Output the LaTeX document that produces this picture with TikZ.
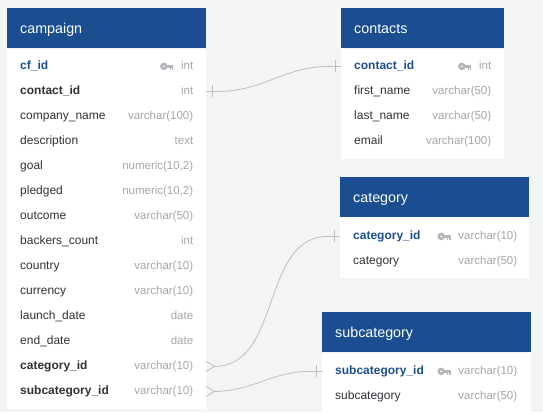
\documentclass[tikz,border=0pt]{standalone}
\usepackage{fontspec}
\setmainfont{Liberation Sans}
\usepackage{tikz}
\definecolor{bgray}{HTML}{F3F4F4}
\definecolor{headblue}{HTML}{1B4E91}
\definecolor{pkblue}{HTML}{1D4F91}
\definecolor{rowtext}{HTML}{2F3338}
\definecolor{typegray}{HTML}{A4A7AB}
\definecolor{keygray}{HTML}{B3B6BA}
\definecolor{linkgray}{HTML}{BEBEBE}
\usetikzlibrary{positioning}
\tikzset{
  tbl_head/.style = {anchor=north west, fill=headblue, text=white, inner ysep=0pt,
    inner xsep=13pt, minimum height=40pt, align=left, text height=11pt, text depth=0pt,
    font=\fontsize{14.3}{17}\selectfont},% table title
  tbl_body/.style = {fill=white, inner sep=0pt},% table body
  col_name/.style = {anchor=west, inner sep=0pt, text height=9pt, text depth=3pt,
    text=rowtext, font=\fontsize{12}{14}\selectfont},% plain column
  col_fk/.style = {col_name, font=\fontsize{12}{14}\selectfont\bfseries},% foreign key
  col_pk/.style = {col_name, text=pkblue, font=\fontsize{12}{14}\selectfont\bfseries},% primary key
  col_type/.style = {anchor=east, inner sep=0pt, text height=9pt, text depth=3pt,
    text=typegray, font=\fontsize{11.5}{14}\selectfont},% column type
  link/.style = {draw=linkgray, line width=0.8pt},
  keyicon/.pic = {
    \fill[keygray, even odd rule] (0,0) circle (3.8) (0,0) circle (1.2);
    \fill[keygray] (2,-1.4) rectangle (9.5,1.4);
    \fill[keygray] (5.8,1.4) rectangle (7.1,3.4);
    \fill[keygray] (8.2,1.4) rectangle (9.5,3.4);
  },
}
\begin{document}
\begin{tikzpicture}[x=1pt,y=-1pt]
\fill[bgray] (0,0) rectangle (543,412);
\useasboundingbox (0,0) rectangle (543,412);
% campaign
\node[tbl_head, text width=173pt] (cmp_hd) at (7,8) {campaign};
\node[tbl_body, minimum width=199pt, minimum height=360pt, below=0pt of cmp_hd] (cmp_bd) {};
\node[col_pk] (cmp_cf) at ([xshift=13pt,yshift=-18pt]cmp_bd.north west) {cf\_id};
\node[col_fk] (cmp_contact) at ([yshift=-25pt]cmp_cf.west) {contact\_id};
\node[col_name] (cmp_company) at ([yshift=-25pt]cmp_contact.west) {company\_name};
\node[col_name] (cmp_desc) at ([yshift=-25pt]cmp_company.west) {description};
\node[col_name] (cmp_goal) at ([yshift=-25pt]cmp_desc.west) {goal};
\node[col_name] (cmp_pledged) at ([yshift=-25pt]cmp_goal.west) {pledged};
\node[col_name] (cmp_outcome) at ([yshift=-25pt]cmp_pledged.west) {outcome};
\node[col_name] (cmp_backers) at ([yshift=-25pt]cmp_outcome.west) {backers\_count};
\node[col_name] (cmp_country) at ([yshift=-25pt]cmp_backers.west) {country};
\node[col_name] (cmp_currency) at ([yshift=-25pt]cmp_country.west) {currency};
\node[col_name] (cmp_launch) at ([yshift=-25pt]cmp_currency.west) {launch\_date};
\node[col_name] (cmp_end) at ([yshift=-25pt]cmp_launch.west) {end\_date};
\node[col_fk] (cmp_cat) at ([yshift=-25pt]cmp_end.west) {category\_id};
\node[col_fk] (cmp_sub) at ([yshift=-25pt]cmp_cat.west) {subcategory\_id};
\node[col_type, xshift=-13pt] (cmp_cf_t) at (cmp_bd.east |- cmp_cf) {int};
\node[col_type, xshift=-13pt] (cmp_contact_t) at (cmp_bd.east |- cmp_contact) {int};
\node[col_type, xshift=-13pt] (cmp_company_t) at (cmp_bd.east |- cmp_company) {varchar(100)};
\node[col_type, xshift=-13pt] (cmp_desc_t) at (cmp_bd.east |- cmp_desc) {text};
\node[col_type, xshift=-13pt] (cmp_goal_t) at (cmp_bd.east |- cmp_goal) {numeric(10,2)};
\node[col_type, xshift=-13pt] (cmp_pledged_t) at (cmp_bd.east |- cmp_pledged) {numeric(10,2)};
\node[col_type, xshift=-13pt] (cmp_outcome_t) at (cmp_bd.east |- cmp_outcome) {varchar(50)};
\node[col_type, xshift=-13pt] (cmp_backers_t) at (cmp_bd.east |- cmp_backers) {int};
\node[col_type, xshift=-13pt] (cmp_country_t) at (cmp_bd.east |- cmp_country) {varchar(10)};
\node[col_type, xshift=-13pt] (cmp_currency_t) at (cmp_bd.east |- cmp_currency) {varchar(10)};
\node[col_type, xshift=-13pt] (cmp_launch_t) at (cmp_bd.east |- cmp_launch) {date};
\node[col_type, xshift=-13pt] (cmp_end_t) at (cmp_bd.east |- cmp_end) {date};
\node[col_type, xshift=-13pt] (cmp_cat_t) at (cmp_bd.east |- cmp_cat) {varchar(10)};
\node[col_type, xshift=-13pt] (cmp_sub_t) at (cmp_bd.east |- cmp_sub) {varchar(10)};
\pic at ([xshift=-17pt]cmp_cf_t.west) {keyicon};
% contacts
\node[tbl_head, text width=137pt] (con_hd) at (341,8) {contacts};
\node[tbl_body, minimum width=163pt, minimum height=110pt, below=0pt of con_hd] (con_bd) {};
\node[col_pk] (con_id) at ([xshift=13pt,yshift=-18pt]con_bd.north west) {contact\_id};
\node[col_name] (con_first) at ([yshift=-25pt]con_id.west) {first\_name};
\node[col_name] (con_last) at ([yshift=-25pt]con_first.west) {last\_name};
\node[col_name] (con_email) at ([yshift=-25pt]con_last.west) {email};
\node[col_type, xshift=-13pt] (con_id_t) at (con_bd.east |- con_id) {int};
\node[col_type, xshift=-13pt] (con_first_t) at (con_bd.east |- con_first) {varchar(50)};
\node[col_type, xshift=-13pt] (con_last_t) at (con_bd.east |- con_last) {varchar(50)};
\node[col_type, xshift=-13pt] (con_email_t) at (con_bd.east |- con_email) {varchar(100)};
\pic at ([xshift=-17pt]con_id_t.west) {keyicon};
% category
\node[tbl_head, text width=163pt] (cat_hd) at (340,177) {category};
\node[tbl_body, minimum width=189pt, minimum height=60pt, below=0pt of cat_hd] (cat_bd) {};
\node[col_pk] (cat_id) at ([xshift=13pt,yshift=-19pt]cat_bd.north west) {category\_id};
\node[col_name] (cat_name) at ([yshift=-25pt]cat_id.west) {category};
\node[col_type, xshift=-12pt] (cat_id_t) at (cat_bd.east |- cat_id) {varchar(10)};
\node[col_type, xshift=-12pt] (cat_name_t) at (cat_bd.east |- cat_name) {varchar(50)};
\pic at ([xshift=-17pt]cat_id_t.west) {keyicon};
% subcategory
\node[tbl_head, text width=183pt] (sub_hd) at (322,312) {subcategory};
\node[tbl_body, minimum width=209pt, minimum height=60pt, below=0pt of sub_hd] (sub_bd) {};
\node[col_pk] (sub_id) at ([xshift=13pt,yshift=-19pt]sub_bd.north west) {subcategory\_id};
\node[col_name] (sub_name) at ([yshift=-25pt]sub_id.west) {subcategory};
\node[col_type, xshift=-14pt] (sub_id_t) at (sub_bd.east |- sub_id) {varchar(10)};
\node[col_type, xshift=-14pt] (sub_name_t) at (sub_bd.east |- sub_name) {varchar(50)};
\pic at ([xshift=-17pt]sub_id_t.west) {keyicon};
% links
\coordinate (cmp_l1) at (cmp_bd.east |- cmp_contact);
\coordinate (cmp_l2) at (cmp_bd.east |- cmp_cat);
\coordinate (cmp_l3) at (cmp_bd.east |- cmp_sub);
\coordinate (con_l1) at (con_bd.west |- con_id);
\coordinate (cat_l1) at (cat_bd.west |- cat_id);
\coordinate (sub_l1) at (sub_bd.west |- sub_id);
\draw[link] (cmp_l1) -- ++(12,0) to[out=0,in=180] ([xshift=-12pt]con_l1) -- (con_l1);
\draw[link] ([xshift=6pt]cmp_l1) ++(0,-6) -- ++(0,12);
\draw[link] ([xshift=-6pt]con_l1) ++(0,-6) -- ++(0,12);
\draw[link] ([yshift=5pt]cmp_l2) -- ++(8,5) -- ++(-8,5);
\draw[link] ([xshift=8pt]cmp_l2) to[out=0,in=180] ([xshift=-12pt]cat_l1) -- (cat_l1);
\draw[link] ([xshift=-6pt]cat_l1) ++(0,-6) -- ++(0,12);
\draw[link] ([yshift=5pt]cmp_l3) -- ++(8,5) -- ++(-8,5);
\draw[link] ([xshift=8pt]cmp_l3) to[out=0,in=180] ([xshift=-12pt]sub_l1) -- (sub_l1);
\draw[link] ([xshift=-6pt]sub_l1) ++(0,-6) -- ++(0,12);
\end{tikzpicture}
\end{document}
